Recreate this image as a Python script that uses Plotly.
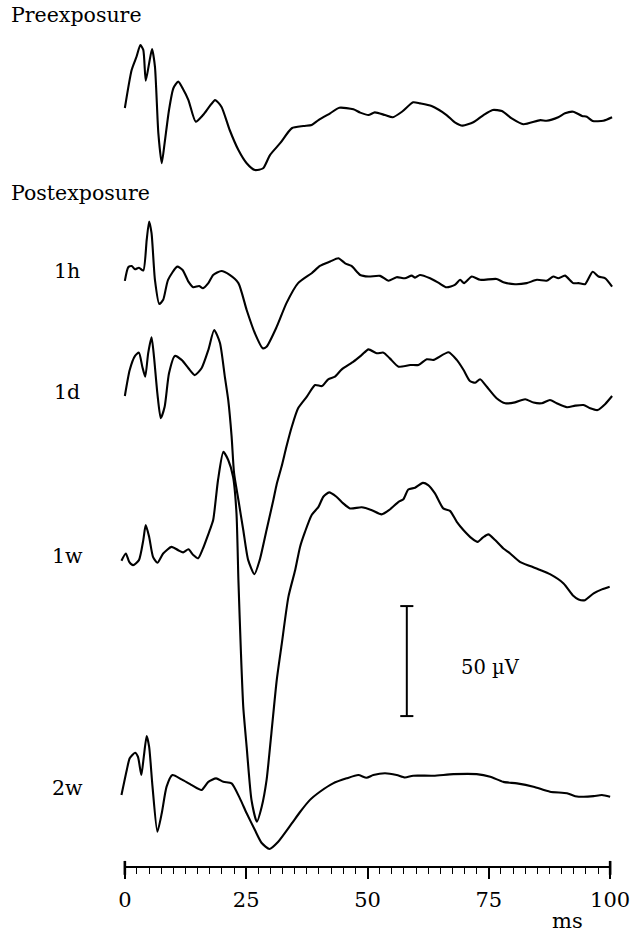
import plotly.graph_objects as go

# ---------------- data (time in ms, amplitude in µV relative to trace baseline) -------------
trace_names = ["Preexposure", "1h", "1d", "1w", "2w"]
trace_offsets = [345.0, 266.4, 214.1, 139.5, 32.7]   # µV vertical offset of each trace

pre_t = [0, 1.4, 2.4, 3.2, 3.8, 4.3, 5.0, 5.6, 6.2, 6.9, 7.6, 8.2, 9.1, 10.0, 11.0, 11.9, 13.1, 14.6,
         16.1, 17.4, 18.6, 19.9, 21.6, 23.4, 25.1, 26.8, 28.5, 29.9, 32.0, 34.4, 36.8, 38.5, 39.9,
         42.3, 44.2, 47.1, 48.5, 50.2, 51.5, 53.6, 55.2, 57.1, 59.4, 60.8, 63.2, 66.3, 68.0, 69.6,
         71.8, 73.9, 75.8, 77.7, 79.7, 82.1, 85.6, 86.9, 89.3, 90.7, 92.4, 94.2, 95.2, 96.4, 98.6, 100.4]
pre_v = [0, 17.3, 23.3, 28.6, 26.4, 12.4, 20.3, 26.8, 18.8, -11.4, -25.1, -15.9, -0.9, 9.0, 12.0, 9.0,
         3.6, -6.2, -3.2, 0.6, 3.6, 0.6, -10.0, -19.1, -25.1, -28.2, -27.4, -21.4, -16.0, -9.2, -8.2,
         -7.7, -5.5, -2.4, 0.1, -0.6, -2.1, -3.2, -2.0, -3.2, -4.2, -1.7, 2.6, 2.1, 0.9, -3.2, -6.5,
         -8.0, -6.5, -3.2, -0.9, -1.4, -4.7, -7.4, -5.5, -5.8, -4.2, -2.4, -1.7, -3.6, -4.0, -5.9,
         -5.8, -4.2]

h1_t = [0, 0.7, 1.4, 2.1, 2.9, 3.8, 4.5, 5.0, 5.5, 6.2, 7.1, 7.9, 8.9, 10.8, 11.9, 13.1, 14.1, 15.3,
        16.1, 17.2, 18.2, 19.9, 21.6, 23.4, 25.1, 26.8, 28.4, 29.2, 31.3, 33.3, 35.7, 38.5, 40.2,
        42.3, 44.0, 45.4, 46.7, 48.5, 50.2, 52.6, 54.3, 56.0, 57.7, 59.1, 59.8, 60.8, 62.9, 64.6,
        66.3, 68.0, 69.1, 69.9, 71.5, 73.2, 76.6, 78.0, 80.4, 82.8, 84.9, 86.9, 88.3, 89.3, 90.7,
        92.4, 93.5, 94.8, 96.4, 97.6, 99.0, 100.4]
h1_v = [0, 6.2, 6.8, 5.3, 6.0, 4.7, 18.6, 27.0, 21.7, 0.5, -10.5, -8.6, 0.5, 6.5, 5.0, -0.3, -2.9,
        -2.3, -3.3, -1.0, 2.7, 4.5, 2.7, -1.0, -13.2, -23.8, -30.6, -29.9, -20.8, -10.1, -1.0, 3.5,
        6.8, 8.8, 10.3, 8.0, 6.8, 2.7, 2.0, 2.3, 0.1, 1.7, 1.2, 2.4, 1.5, 2.7, 1.2, -0.8, -2.9, -1.8,
        0.5, -1.0, 2.0, 0.5, 0.9, -0.6, -1.5, -1.0, 0.5, 0.1, 2.0, 1.2, 2.4, -1.0, -1.0, -1.5, 4.2,
        2.0, 1.2, -2.6]

d1_t = [0, 1.0, 2.1, 2.9, 3.6, 4.2, 4.8, 5.5, 6.0, 6.7, 7.4, 8.2, 9.1, 10.3, 11.7, 13.1, 14.4, 15.8,
        17.2, 18.4, 19.6, 20.6, 21.3, 22.0, 22.5, 23.4, 24.4, 25.4, 26.7, 27.8, 29.2, 30.6, 31.3,
        32.3, 33.3, 34.4, 35.7, 37.5, 39.2, 40.6, 41.9, 43.3, 44.7, 47.1, 48.8, 50.2, 51.9, 53.3,
        54.6, 56.4, 58.8, 60.5, 62.2, 63.6, 66.7, 68.4, 69.8, 71.1, 72.2, 73.2, 74.6, 76.6, 78.4,
        80.4, 82.5, 84.2, 85.9, 87.6, 89.0, 91.1, 92.8, 94.5, 95.9, 97.4, 99.0, 100.4]
d1_v = [0, 11.8, 18.2, 19.7, 13.3, 8.8, 19.4, 26.7, 17.9, 1.2, -10.1, -4.9, 10.3, 18.2, 16.4, 12.6,
        9.5, 12.6, 20.9, 30.0, 24.1, 8.8, -1.8, -18.5, -35.0, -47.3, -60.9, -74.5, -81.0, -74.5,
        -60.9, -47.3, -40.0, -32.1, -23.0, -14.0, -5.6, -0.3, 5.0, 4.5, 7.6, 8.8, 12.1, 15.6, 18.6,
        21.2, 19.4, 19.7, 17.1, 13.3, 14.1, 14.1, 16.7, 16.4, 19.9, 16.4, 11.8, 6.8, 6.0, 7.6, 4.2,
        -1.0, -3.3, -2.9, -1.5, -3.0, -3.3, -1.8, -3.3, -5.1, -4.4, -4.1, -5.6, -6.4, -3.6, 0.0]

w1_t = [-0.7, 0.2, 0.9, 1.7, 2.9, 3.8, 4.3, 5.0, 5.8, 6.7, 7.9, 9.6, 11.0, 12.0, 13.1, 14.1, 15.1,
        16.1, 17.0, 17.5, 18.2, 19.2, 20.3, 21.3, 22.3, 23.0, 23.4, 23.9, 24.4, 25.1, 26.1, 27.2,
        28.2, 29.2, 30.2, 31.3, 32.3, 33.7, 35.1, 36.1, 37.1, 38.5, 39.9, 40.9, 42.1, 43.6, 45.0,
        46.4, 48.8, 50.9, 52.9, 54.6, 56.4, 57.4, 58.4, 59.8, 61.4, 62.5, 63.9, 65.6, 67.0, 68.4,
        69.8, 71.5, 72.7, 73.8, 74.9, 76.3, 78.0, 79.4, 81.4, 83.5, 85.6, 87.6, 90.4, 92.4, 93.5,
        94.8, 96.6, 98.3, 99.9]
w1_v = [-0.3, 3.0, -0.8, -2.3, 0.0, 9.1, 15.9, 10.6, 1.5, -1.2, 3.0, 6.0, 4.5, 3.5, 4.9, 2.3, 0.8,
        5.3, 10.6, 13.6, 18.2, 36.4, 49.2, 45.5, 37.9, 21.4, -9.1, -40.9, -66.7, -84.9, -109.1,
        -118.9, -112.1, -100.0, -78.6, -54.5, -38.6, -16.7, -4.5, 6.0, 12.7, 20.5, 24.2, 28.8, 30.8,
        28.8, 25.8, 23.5, 24.0, 22.7, 20.8, 23.0, 26.5, 27.7, 32.1, 32.9, 35.1, 34.1, 30.3, 23.5,
        22.4, 17.4, 13.6, 9.9, 8.3, 10.3, 11.7, 9.1, 5.3, 3.0, -0.8, -2.7, -4.5, -6.4, -10.6, -16.2,
        -17.9, -18.2, -15.1, -13.3, -12.1]

w2_t = [-0.7, 0.4, 1.0, 2.1, 2.7, 3.4, 3.9, 4.5, 5.0, 5.7, 6.7, 7.6, 8.6, 9.8, 11.7, 13.8, 15.8,
        17.2, 18.8, 20.3, 22.0, 23.7, 25.1, 26.8, 28.2, 29.8, 31.6, 34.4, 36.1, 38.1, 40.2, 42.9,
        45.7, 48.1, 49.8, 51.2, 53.6, 56.0, 57.7, 59.4, 63.6, 67.7, 72.5, 75.3, 78.0, 80.8, 84.2,
        87.6, 91.1, 92.8, 94.5, 96.6, 98.3, 100.0]
w2_v = [0, 11.4, 16.7, 19.2, 17.4, 9.1, 17.4, 26.8, 22.0, 3.8, -16.7, -8.3, 3.8, 9.1, 7.1, 4.5, 2.3,
        6.0, 7.6, 6.0, 5.3, -1.5, -8.3, -15.9, -21.8, -24.5, -21.2, -12.9, -7.7, -2.3, 1.5, 5.3,
        7.6, 9.1, 7.9, 9.1, 9.9, 9.1, 8.0, 8.8, 8.8, 9.5, 9.5, 8.3, 6.0, 5.3, 3.8, 1.5, 0.8, -0.5,
        -0.8, -0.5, 0.0, -0.8]

series_t = [pre_t, h1_t, d1_t, w1_t, w2_t]
series_v = [pre_v, h1_v, d1_v, w1_v, w2_v]

x_ticks = [0, 25, 50, 75, 100]
x_unit = "ms"

scale_bar_x = 58.1       # ms
scale_bar_bottom = 68.6  # µV (plot coordinate)
scale_bar_len = 50       # µV
scale_bar_label = "50 µV"

group_labels = ["Preexposure", "Postexposure"]
side_labels = ["1h", "1d", "1w", "2w"]

# ---------------- figure -------------
SERIF = "DejaVu Serif"
fig = go.Figure()

for name, t, v, off in zip(trace_names, series_t, series_v, trace_offsets):
    fig.add_trace(go.Scatter(
        x=t, y=[off + a for a in v], mode="lines", name=name,
        line=dict(color="black", width=2.1, shape="spline", smoothing=0.6),
        hoverinfo="skip", showlegend=False))

shapes = []
# axis line and end caps
shapes.append(dict(type="line", xref="x", yref="paper", x0=x_ticks[0], x1=x_ticks[-1], y0=0, y1=0,
                   line=dict(color="black", width=2.2)))
for xe in (x_ticks[0], x_ticks[-1]):
    shapes.append(dict(type="line", xref="x", yref="paper", x0=xe, x1=xe, y0=-0.009, y1=0.007,
                       line=dict(color="black", width=2.6)))
# scale bar
top = scale_bar_bottom + scale_bar_len
shapes.append(dict(type="line", xref="x", yref="y", x0=scale_bar_x, x1=scale_bar_x,
                   y0=scale_bar_bottom, y1=top, line=dict(color="black", width=2)))
for yy in (scale_bar_bottom, top):
    shapes.append(dict(type="line", xref="x", yref="y", x0=scale_bar_x - 1.35, x1=scale_bar_x + 1.35,
                       y0=yy, y1=yy, line=dict(color="black", width=2)))

def ann(text, x, y, xref="paper", yref="paper", xanchor="center", size=20.5):
    return dict(text=text, x=x, y=y, xref=xref, yref=yref, xanchor=xanchor, yanchor="middle",
                showarrow=False, font=dict(family=SERIF, size=size, color="black"))

annotations = [
    ann(group_labels[0], -0.2242, 0.9827, xanchor="left"),
    ann(group_labels[1], -0.2242, 0.7774, xanchor="left"),
    ann(scale_bar_label, 75.3, 90.5, xref="x", yref="y", size=19.5),
    ann(x_unit, 0.9040, -0.0625, size=21),
]
for lab, yp in zip(side_labels, [0.6874, 0.5479, 0.3587, 0.0911]):
    annotations.append(ann(lab, -0.1061, yp))

fig.update_layout(
    width=637, height=935, autosize=False,
    margin=dict(l=120, r=22, t=0, b=68, pad=0),
    paper_bgcolor="white", plot_bgcolor="white",
    shapes=shapes, annotations=annotations,
    xaxis=dict(range=[-1, 101], tickvals=x_ticks, ticks="outside", ticklen=11, tickwidth=1.5,
               tickcolor="black", showline=False, showgrid=False, zeroline=False,
               ticklabelstandoff=3,
               tickfont=dict(family=SERIF, size=21, color="black"),
               minor=dict(dtick=2.5, tick0=0, ticks="outside", ticklen=6, tickwidth=1.2,
                          tickcolor="black", showgrid=False)),
    yaxis=dict(range=[0, 867 / 2.2], visible=False, showgrid=False, zeroline=False),
)

fig.write_html("out.html")
